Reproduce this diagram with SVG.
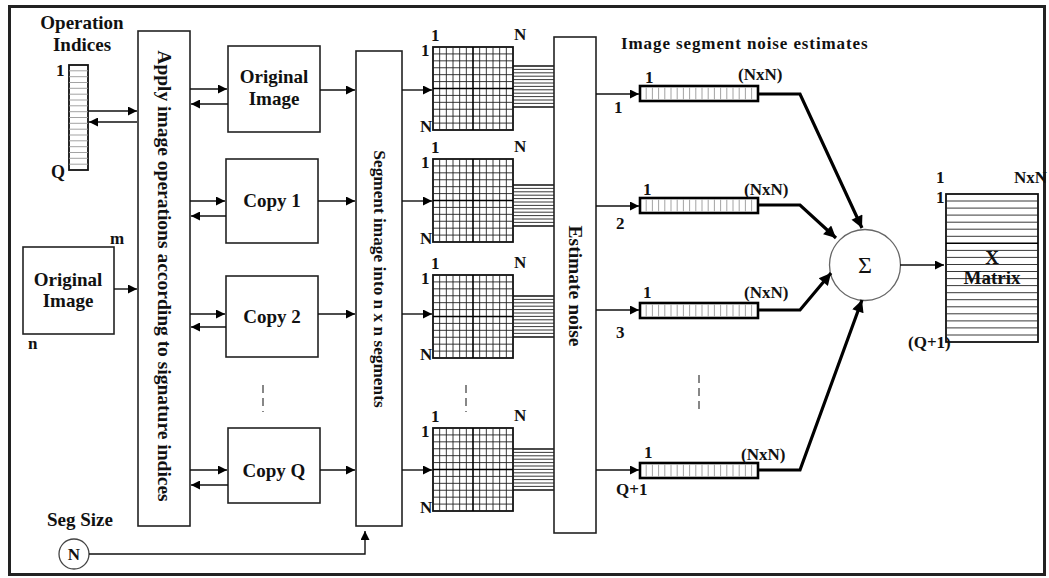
<svg xmlns="http://www.w3.org/2000/svg" width="1049" height="578" viewBox="0 0 1049 578">
<style>
text{font-family:"Liberation Serif","Times New Roman",serif;font-weight:bold;fill:#111;}
.lbl{font-size:19px;text-anchor:middle;}
.idx{font-size:17px;}
.box{fill:#fff;stroke:#222;stroke-width:1.6;}
.thin{fill:none;stroke:#111;stroke-width:1.4;}
.thick{fill:none;stroke:#000;stroke-width:3.2;}
.gl{stroke:#222;stroke-width:0.9;fill:none;}
.tk{stroke:#999;stroke-width:0.9;fill:none;}
.dash{stroke:#555;stroke-width:1.4;stroke-dasharray:8 5;fill:none;}
</style>
<defs>
<marker id="ah" viewBox="0 0 10 10" refX="10" refY="5" markerWidth="11" markerHeight="9" markerUnits="userSpaceOnUse" orient="auto"><path d="M0,0 L10,5 L0,10 z" fill="#000"/></marker>
<marker id="ahb" viewBox="0 0 10 10" refX="10" refY="5" markerWidth="15" markerHeight="12" markerUnits="userSpaceOnUse" orient="auto"><path d="M0,0 L10,5 L0,10 z" fill="#000"/></marker>
<g id="grid">
<rect x="0" y="0" width="80" height="83" fill="#fff" stroke="#111" stroke-width="1.8"/>
<path class="gl" d="M6.67,0V83M13.33,0V83M20,0V83M26.67,0V83M33.33,0V83M46.67,0V83M53.33,0V83M60,0V83M66.67,0V83M73.33,0V83M0,6.92H80M0,13.83H80M0,20.75H80M0,27.67H80M0,34.58H80M0,48.42H80M0,55.33H80M0,62.25H80M0,69.17H80M0,76.08H80"/>
<path d="M40,0V83M0,41.5H80" stroke="#000" stroke-width="1.6"/>
</g>
<g id="bundle">
<path d="M0,0H41M0,41H41" stroke="#111" stroke-width="1.6"/>
<path class="gl" d="M0,3.4H41M0,6.8H41M0,10.2H41M0,13.6H41M0,17H41M0,20.4H41M0,23.8H41M0,27.2H41M0,30.6H41M0,34H41M0,37.4H41" stroke="#444"/>
</g>
<g id="bar">
<rect x="0" y="0" width="118" height="15" fill="#fff" stroke="#000" stroke-width="2.6"/>
<path class="tk" d="M6.2,1.5V13.5M12.4,1.5V13.5M18.6,1.5V13.5M24.8,1.5V13.5M31,1.5V13.5M37.2,1.5V13.5M43.4,1.5V13.5M49.6,1.5V13.5M55.8,1.5V13.5M62,1.5V13.5M68.2,1.5V13.5M74.4,1.5V13.5M80.6,1.5V13.5M86.8,1.5V13.5M93,1.5V13.5M99.2,1.5V13.5M105.4,1.5V13.5M111.6,1.5V13.5"/>
</g>
</defs>

<rect x="9.5" y="6.5" width="1035" height="568" fill="#fff" stroke="#222" stroke-width="3"/>

<!-- Operation indices -->
<g id="op-indices">
<text class="lbl" x="82" y="29">Operation</text>
<text class="lbl" x="82" y="51">Indices</text>
<rect x="69" y="65" width="19" height="105" fill="#fff" stroke="#111" stroke-width="1.8"/>
<path class="tk" d="M69,70.8H88M69,76.7H88M69,82.5H88M69,88.3H88M69,94.2H88M69,100H88M69,105.8H88M69,111.7H88M69,117.5H88M69,123.3H88M69,129.2H88M69,135H88M69,140.8H88M69,146.7H88M69,152.5H88M69,158.3H88M69,164.2H88" stroke="#888"/>
<text class="idx" x="56" y="76">1</text>
<text class="idx" x="51" y="178" style="font-size:18px">Q</text>
</g>

<!-- Left original image -->
<g id="orig-left">
<rect class="box" x="23" y="247" width="91" height="87"/>
<text class="lbl" x="68" y="286">Original</text>
<text class="lbl" x="68" y="307">Image</text>
<text class="idx" x="110" y="244">m</text>
<text class="idx" x="28" y="349">n</text>
</g>

<!-- Apply box -->
<g id="apply">
<rect class="box" x="138" y="31" width="52" height="495"/>
<text class="lbl" x="164" y="276" dominant-baseline="central" transform="rotate(90 164 276)" style="font-size:19.5px">Apply image operations according to signature indices</text>
</g>

<!-- Copies -->
<g id="orig-top">
<rect class="box" x="228" y="46" width="92" height="86"/>
<text class="lbl" x="274" y="83">Original</text>
<text class="lbl" x="274" y="105">Image</text>
</g>
<g id="copy1">
<rect class="box" x="226" y="159" width="92" height="84"/>
<text class="lbl" x="272" y="207">Copy 1</text>
</g>
<g id="copy2">
<rect class="box" x="226" y="276" width="92" height="81"/>
<text class="lbl" x="272" y="323">Copy 2</text>
</g>
<g id="copyQ">
<rect class="box" x="228" y="428" width="92" height="75"/>
<text class="lbl" x="274" y="477">Copy Q</text>
</g>

<!-- Segment box -->
<g id="segment">
<rect class="box" x="356" y="51" width="46" height="475"/>
<text class="lbl" x="379" y="279" dominant-baseline="central" transform="rotate(90 379 279)" style="font-size:17.3px">Segment image into n x n segments</text>
</g>

<!-- Grids -->
<g id="grid1">
<use href="#grid" x="433" y="47"/>
<use href="#bundle" x="513" y="66"/>
<text class="idx" x="431" y="41">1</text>
<text class="idx" x="421" y="56">1</text>
<text class="idx" x="514" y="40">N</text>
<text class="idx" x="420" y="132">N</text>
</g>
<g id="grid2">
<use href="#grid" x="433" y="159"/>
<use href="#bundle" x="513" y="185"/>
<text class="idx" x="431" y="153">1</text>
<text class="idx" x="421" y="168">1</text>
<text class="idx" x="514" y="152">N</text>
<text class="idx" x="420" y="244">N</text>
</g>
<g id="grid3">
<use href="#grid" x="433" y="275"/>
<use href="#bundle" x="513" y="296"/>
<text class="idx" x="431" y="269">1</text>
<text class="idx" x="421" y="284">1</text>
<text class="idx" x="514" y="268">N</text>
<text class="idx" x="420" y="360">N</text>
</g>
<g id="grid4">
<use href="#grid" x="433" y="428"/>
<use href="#bundle" x="513" y="449"/>
<text class="idx" x="431" y="422">1</text>
<text class="idx" x="421" y="437">1</text>
<text class="idx" x="514" y="421">N</text>
<text class="idx" x="420" y="513">N</text>
</g>

<!-- Estimate noise box -->
<g id="estimate">
<rect class="box" x="554" y="37" width="42" height="496"/>
<text class="lbl" x="575" y="286" dominant-baseline="central" transform="rotate(90 575 286)" style="font-size:19.5px">Estimate noise</text>
</g>

<text x="621" y="49" style="font-size:17px;letter-spacing:0.9px">Image segment noise estimates</text>

<!-- Bars -->
<g id="bar1">
<use href="#bar" x="640" y="86"/>
<text class="idx" x="645" y="83">1</text>
<text class="idx" x="738" y="80">(NxN)</text>
<text class="idx" x="614" y="113">1</text>
</g>
<g id="bar2">
<use href="#bar" x="640" y="198"/>
<text class="idx" x="643" y="195">1</text>
<text class="idx" x="744" y="195">(NxN)</text>
<text class="idx" x="616" y="229">2</text>
</g>
<g id="bar3">
<use href="#bar" x="640" y="303"/>
<text class="idx" x="643" y="298">1</text>
<text class="idx" x="744" y="298">(NxN)</text>
<text class="idx" x="616" y="338">3</text>
</g>
<g id="bar4">
<use href="#bar" x="640" y="463"/>
<text class="idx" x="644" y="458">1</text>
<text class="idx" x="741" y="460">(NxN)</text>
<text class="idx" x="616" y="495">Q+1</text>
</g>

<!-- Sigma -->
<g id="sigma">
<circle cx="865" cy="265" r="35.5" fill="#fff" stroke="#666" stroke-width="1.3"/>
<text x="865" y="273" text-anchor="middle" style="font-weight:normal;font-size:24px">Σ</text>
</g>

<!-- Matrix -->
<g id="matrix">
<rect x="946" y="194" width="92" height="148" fill="#fff" stroke="#111" stroke-width="1.8"/>
<path class="gl" d="M946,201H1038M946,208.1H1038M946,215.1H1038M946,222.2H1038M946,229.2H1038M946,236.3H1038M946,250.4H1038M946,257.4H1038M946,264.5H1038M946,271.5H1038M946,278.6H1038M946,285.6H1038M946,292.7H1038M946,299.7H1038M946,306.8H1038M946,313.8H1038M946,320.9H1038M946,327.9H1038M946,335H1038"/>
<path d="M946,243.3H1038" stroke="#000" stroke-width="1.5"/>
<text class="lbl" x="992" y="264">X</text>
<text class="lbl" x="992" y="284">Matrix</text>
<text class="idx" x="936" y="183">1</text>
<text class="idx" x="936" y="203">1</text>
<text class="idx" x="1014" y="183">NxN</text>
<text class="idx" x="908" y="348">(Q+1)</text>
</g>

<!-- Seg size -->
<g id="segsize">
<text x="47" y="526" style="font-size:19px">Seg Size</text>
<circle cx="74" cy="554" r="15" fill="#fff" stroke="#444" stroke-width="1.3"/>
<text x="74" y="560" text-anchor="middle" style="font-size:17px">N</text>
</g>

<!-- Connectors -->
<g id="connectors">
<path class="thin" d="M88,111H137" marker-end="url(#ah)"/>
<path class="thin" d="M137,122H89" marker-end="url(#ah)"/>
<path class="thin" d="M114,289H137" marker-end="url(#ah)"/>

<path class="thin" d="M190,89H227" marker-end="url(#ah)"/>
<path class="thin" d="M228,104H191" marker-end="url(#ah)"/>
<path class="thin" d="M190,201H225" marker-end="url(#ah)"/>
<path class="thin" d="M226,216H191" marker-end="url(#ah)"/>
<path class="thin" d="M190,314H225" marker-end="url(#ah)"/>
<path class="thin" d="M226,327H191" marker-end="url(#ah)"/>
<path class="thin" d="M190,470H227" marker-end="url(#ah)"/>
<path class="thin" d="M228,485H191" marker-end="url(#ah)"/>

<path class="thin" d="M320,90H355" marker-end="url(#ah)"/>
<path class="thin" d="M318,201H355" marker-end="url(#ah)"/>
<path class="thin" d="M318,314H355" marker-end="url(#ah)"/>
<path class="thin" d="M320,470H355" marker-end="url(#ah)"/>

<path class="thin" d="M402,90H432" marker-end="url(#ah)"/>
<path class="thin" d="M402,201H432" marker-end="url(#ah)"/>
<path class="thin" d="M402,314H432" marker-end="url(#ah)"/>
<path class="thin" d="M402,470H432" marker-end="url(#ah)"/>

<path class="thin" d="M596,94H639" marker-end="url(#ah)"/>
<path class="thin" d="M596,206H639" marker-end="url(#ah)"/>
<path class="thin" d="M596,310H639" marker-end="url(#ah)"/>
<path class="thin" d="M596,470H639" marker-end="url(#ah)"/>

<path class="thick" d="M758,94H800L862,228" marker-end="url(#ahb)"/>
<path class="thick" d="M758,205H800L836,238" marker-end="url(#ahb)"/>
<path class="thick" d="M758,310H800L831,273" marker-end="url(#ahb)"/>
<path class="thick" d="M758,470H800L862,300" marker-end="url(#ahb)"/>

<path class="thin" d="M900,265H944" marker-end="url(#ah)"/>

<path class="thin" d="M89,554H365V531" marker-end="url(#ah)"/>

<path class="dash" d="M263,385V412"/>
<path class="dash" d="M466,385V412"/>
<path class="dash" d="M699,375V410"/>
</g>
</svg>
